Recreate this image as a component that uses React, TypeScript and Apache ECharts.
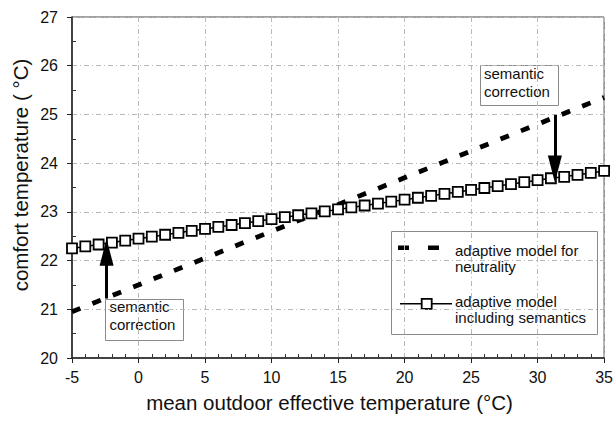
import React, { useEffect, useRef } from 'react';
import * as echarts from 'echarts';

// ---- data ----
const xRange = [-5, 35];
const yRange = [20, 27];
const xInterval = 5;
const yInterval = 1;

const neutralityLine: [number, number][] = [
  [-5, 20.95],
  [35, 25.35],
];

const semanticsX = [
  -5, -4, -3, -2, -1, 0, 1, 2, 3, 4, 5, 6, 7, 8, 9, 10, 11, 12, 13, 14, 15,
  16, 17, 18, 19, 20, 21, 22, 23, 24, 25, 26, 27, 28, 29, 30, 31, 32, 33, 34, 35,
];
const semanticsY = [
  22.25, 22.29, 22.33, 22.37, 22.41, 22.45, 22.49, 22.53, 22.57, 22.61, 22.65,
  22.69, 22.73, 22.77, 22.81, 22.85, 22.89, 22.93, 22.97, 23.01, 23.05,
  23.09, 23.13, 23.17, 23.21, 23.25, 23.29, 23.33, 23.37, 23.41, 23.45,
  23.49, 23.53, 23.57, 23.61, 23.65, 23.69, 23.72, 23.76, 23.8, 23.84,
];

const arrowUp: [number, number][] = [
  [-2.4, 21.22],
  [-2.4, 22.17],
];
const arrowDown: [number, number][] = [
  [31.3, 24.99],
  [31.3, 23.88],
];

const seriesNames = ['adaptive model for neutrality', 'adaptive model including semantics'];
const legendText1 = 'adaptive model for\nneutrality';
const legendText2 = 'adaptive model\nincluding semantics';
const noteLines = ['semantic', 'correction'];
const xTitle = 'mean outdoor effective temperature (°C)';
const yTitle = 'comfort temperature ( °C)';

const FONT = '"Liberation Sans", Arial, Helvetica, sans-serif';

export default function App() {
  const ref = useRef<HTMLDivElement>(null);

  useEffect(() => {
    if (!ref.current) return;
    const chart = echarts.init(ref.current, undefined, { renderer: 'svg' });

    const textEl = (text: string, x: number, y: number, size = 15) => ({
      type: 'text',
      x,
      y,
      style: {
        text,
        font: `${size}px ${FONT}`,
        fill: '#111',
        verticalAlign: 'middle',
        align: 'left',
      },
    });

    const blockText = (text: string, x: number, top: number) => ({
      type: 'text',
      x,
      y: top,
      style: {
        text,
        font: `15px ${FONT}`,
        lineHeight: 16,
        fill: '#111',
        verticalAlign: 'top',
        align: 'left',
      },
    });

    const option: any = {
      animation: false,
      backgroundColor: '#fff',
      textStyle: { fontFamily: FONT },
      grid: {
        left: 72,
        right: 8,
        top: 17,
        bottom: 65,
        show: true,
        borderColor: '#444',
        borderWidth: 1,
        backgroundColor: 'transparent',
      },
      xAxis: [
        {
          type: 'value',
          min: xRange[0],
          max: xRange[1],
          interval: xInterval,
          axisLine: { show: true, onZero: false, lineStyle: { color: '#222', width: 1.5 } },
          axisTick: { show: true, inside: false, length: 5, lineStyle: { color: '#222' } },
          axisLabel: { fontSize: 16, color: '#111', margin: 11, fontFamily: FONT },
          splitLine: { show: true, lineStyle: { color: '#b8b8b8', type: [5, 3, 1, 3], width: 1 } },
        },
        {
          type: 'value',
          min: xRange[0],
          max: xRange[1],
          interval: xInterval,
          position: 'bottom',
          axisLine: { show: false, onZero: false },
          axisTick: { show: false, inside: true },
          axisLabel: { show: false },
          splitLine: { show: false },
          minorTick: { show: true, splitNumber: 5, length: 4, lineStyle: { color: '#333', width: 1 } },
        },
      ],
      yAxis: [
        {
          type: 'value',
          min: yRange[0],
          max: yRange[1],
          interval: yInterval,
          axisLine: { show: true, onZero: false, lineStyle: { color: '#222', width: 1.5 } },
          axisTick: { show: true, inside: false, length: 5, lineStyle: { color: '#222' } },
          axisLabel: { fontSize: 16, color: '#111', margin: 14, fontFamily: FONT },
          splitLine: { show: true, lineStyle: { color: '#b8b8b8', type: [5, 3, 1, 3], width: 1 } },
        },
        {
          type: 'value',
          min: yRange[0],
          max: yRange[1],
          interval: yInterval,
          position: 'left',
          axisLine: { show: false, onZero: false },
          axisTick: { show: false, inside: true },
          axisLabel: { show: false },
          splitLine: { show: false },
          minorTick: { show: true, splitNumber: 2, length: 4, lineStyle: { color: '#333', width: 1 } },
        },
      ],
      series: [
        {
          name: seriesNames[0],
          type: 'line',
          data: neutralityLine,
          showSymbol: false,
          symbol: 'none',
          lineStyle: { color: '#000', width: 4.8, type: [9, 13], cap: 'butt' },
          silent: true,
          z: 2,
        },
        {
          name: seriesNames[1],
          type: 'line',
          data: semanticsX.map((x, i) => [x, semanticsY[i]]),
          symbol: 'rect',
          symbolSize: 10,
          showAllSymbol: true,
          itemStyle: { color: '#fff', borderColor: '#000', borderWidth: 1.8 },
          lineStyle: { color: '#000', width: 1.5 },
          silent: true,
          z: 3,
        },
        {
          type: 'line',
          data: [],
          silent: true,
          z: 5,
          markLine: {
            silent: true,
            animation: false,
            symbol: ['none', 'triangle'],
            symbolSize: [14, 27],
            label: { show: false },
            lineStyle: { color: '#000', width: 3, type: 'solid' },
            emphasis: { disabled: true },
            data: [
              [{ coord: arrowUp[0] }, { coord: arrowUp[1] }],
              [{ coord: arrowDown[0] }, { coord: arrowDown[1] }],
            ],
          },
        },
      ],
      graphic: [
        // axis titles
        {
          type: 'text',
          x: 329.5,
          y: 402,
          z: 100,
          style: {
            text: xTitle,
            font: `20.5px ${FONT}`,
            fill: '#111',
            align: 'center',
            verticalAlign: 'middle',
          },
        },
        {
          type: 'text',
          x: 20,
          y: 175,
          rotation: Math.PI / 2,
          z: 100,
          style: {
            text: yTitle,
            font: `20.5px ${FONT}`,
            fill: '#111',
            align: 'center',
            verticalAlign: 'middle',
          },
        },
        {
          type: 'group',
          z: 100,
          children: [
            // note box lower-left
            {
              type: 'rect',
              shape: { x: 105.5, y: 299.5, width: 78, height: 41 },
              style: { fill: '#fff', stroke: '#8a8a8a', lineWidth: 1 },
            },
            textEl(noteLines[0], 109.5, 306.4),
            textEl(noteLines[1], 109.5, 324.8),
            // note box upper-right
            {
              type: 'rect',
              shape: { x: 480.5, y: 65.5, width: 78, height: 40 },
              style: { fill: '#fff', stroke: '#8a8a8a', lineWidth: 1 },
            },
            textEl(noteLines[0], 484, 73),
            textEl(noteLines[1], 484, 91.5),
            // legend box
            {
              type: 'rect',
              shape: { x: 391.5, y: 231.5, width: 206, height: 103 },
              style: { fill: '#fff', stroke: '#8a8a8a', lineWidth: 1 },
            },
            {
              type: 'line',
              shape: { x1: 398, y1: 247.7, x2: 439, y2: 247.7 },
              style: { stroke: '#000', lineWidth: 4.5, lineDash: [11, 19] },
            },
            blockText(legendText1, 455, 242.4),
            {
              type: 'line',
              shape: { x1: 400, y1: 303.8, x2: 452, y2: 303.8 },
              style: { stroke: '#000', lineWidth: 1.5 },
            },
            {
              type: 'rect',
              shape: { x: 421.7, y: 298.8, width: 10, height: 10 },
              style: { fill: '#fff', stroke: '#000', lineWidth: 1.8 },
            },
            blockText(legendText2, 455, 293.4),
          ],
        },
      ],
    };

    chart.setOption(option);
    return () => chart.dispose();
  }, []);

  return (
    <div
      ref={ref}
      style={{ position: 'fixed', left: 0, top: 0, width: 616, height: 423 }}
    />
  );
}
